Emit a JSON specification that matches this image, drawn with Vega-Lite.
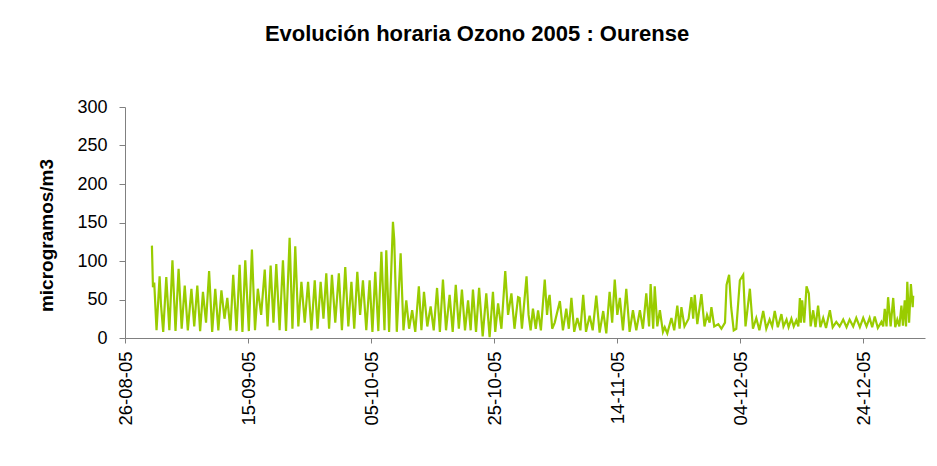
{
  "$schema": "https://vega.github.io/schema/vega-lite/v6.json",
  "width": 800,
  "height": 231,
  "autosize": "none",
  "padding": {"left": 125, "top": 107, "right": 12, "bottom": 128},
  "background": "white",
  "title": {
    "text": "Evolución horaria Ozono 2005 : Ourense",
    "font": "Liberation Sans",
    "fontSize": 22,
    "fontWeight": "bold",
    "color": "black",
    "anchor": "middle",
    "dx": -48,
    "offset": 52
  },
  "config": {
    "view": {"stroke": null},
    "font": "Liberation Sans"
  },
  "data": {
    "values": [
      {"t": "2005-08-30T09:00", "v": 120},
      {"t": "2005-08-30T13:00", "v": 66},
      {"t": "2005-08-30T18:00", "v": 72},
      {"t": "2005-08-31T03:00", "v": 10},
      {"t": "2005-08-31T15:00", "v": 80},
      {"t": "2005-08-31T20:00", "v": 45},
      {"t": "2005-09-01T05:00", "v": 8},
      {"t": "2005-09-01T17:00", "v": 79},
      {"t": "2005-09-02T05:00", "v": 10},
      {"t": "2005-09-02T17:00", "v": 101},
      {"t": "2005-09-03T05:00", "v": 9},
      {"t": "2005-09-03T17:00", "v": 90},
      {"t": "2005-09-04T05:00", "v": 12},
      {"t": "2005-09-04T17:00", "v": 68},
      {"t": "2005-09-05T05:00", "v": 10},
      {"t": "2005-09-05T19:00", "v": 64},
      {"t": "2005-09-06T06:00", "v": 15},
      {"t": "2005-09-06T18:00", "v": 68},
      {"t": "2005-09-07T05:00", "v": 9},
      {"t": "2005-09-07T16:00", "v": 60},
      {"t": "2005-09-08T04:00", "v": 20},
      {"t": "2005-09-08T16:00", "v": 87},
      {"t": "2005-09-09T04:00", "v": 8},
      {"t": "2005-09-09T16:00", "v": 64},
      {"t": "2005-09-10T04:00", "v": 10},
      {"t": "2005-09-10T16:00", "v": 62},
      {"t": "2005-09-11T04:00", "v": 25},
      {"t": "2005-09-11T15:00", "v": 52},
      {"t": "2005-09-12T03:00", "v": 10},
      {"t": "2005-09-12T14:00", "v": 82},
      {"t": "2005-09-13T03:00", "v": 9},
      {"t": "2005-09-13T15:00", "v": 95},
      {"t": "2005-09-14T02:00", "v": 8},
      {"t": "2005-09-14T13:00", "v": 101},
      {"t": "2005-09-15T03:00", "v": 9},
      {"t": "2005-09-15T15:00", "v": 115},
      {"t": "2005-09-16T03:00", "v": 10},
      {"t": "2005-09-16T14:00", "v": 64},
      {"t": "2005-09-17T03:00", "v": 30},
      {"t": "2005-09-17T17:00", "v": 89},
      {"t": "2005-09-18T04:00", "v": 15},
      {"t": "2005-09-18T16:00", "v": 94},
      {"t": "2005-09-19T03:00", "v": 20},
      {"t": "2005-09-19T14:00", "v": 96},
      {"t": "2005-09-20T03:00", "v": 10},
      {"t": "2005-09-20T16:00", "v": 101},
      {"t": "2005-09-21T04:00", "v": 9},
      {"t": "2005-09-21T18:00", "v": 130},
      {"t": "2005-09-22T05:00", "v": 12},
      {"t": "2005-09-22T16:00", "v": 119},
      {"t": "2005-09-23T04:00", "v": 15},
      {"t": "2005-09-23T16:00", "v": 73},
      {"t": "2005-09-24T05:00", "v": 20},
      {"t": "2005-09-24T18:00", "v": 73},
      {"t": "2005-09-25T07:00", "v": 10},
      {"t": "2005-09-25T20:00", "v": 75},
      {"t": "2005-09-26T07:00", "v": 12},
      {"t": "2005-09-26T19:00", "v": 73},
      {"t": "2005-09-27T06:00", "v": 25},
      {"t": "2005-09-27T17:00", "v": 84},
      {"t": "2005-09-28T04:00", "v": 12},
      {"t": "2005-09-28T15:00", "v": 82},
      {"t": "2005-09-29T04:00", "v": 20},
      {"t": "2005-09-29T18:00", "v": 84},
      {"t": "2005-09-30T06:00", "v": 10},
      {"t": "2005-09-30T19:00", "v": 92},
      {"t": "2005-10-01T07:00", "v": 15},
      {"t": "2005-10-01T19:00", "v": 73},
      {"t": "2005-10-02T06:00", "v": 12},
      {"t": "2005-10-02T18:00", "v": 86},
      {"t": "2005-10-03T05:00", "v": 30},
      {"t": "2005-10-03T16:00", "v": 75},
      {"t": "2005-10-04T05:00", "v": 10},
      {"t": "2005-10-04T18:00", "v": 75},
      {"t": "2005-10-05T05:00", "v": 8},
      {"t": "2005-10-05T16:00", "v": 86},
      {"t": "2005-10-06T04:00", "v": 9},
      {"t": "2005-10-06T16:00", "v": 112},
      {"t": "2005-10-07T04:00", "v": 10},
      {"t": "2005-10-07T11:00", "v": 114},
      {"t": "2005-10-07T22:00", "v": 8},
      {"t": "2005-10-08T13:00", "v": 151},
      {"t": "2005-10-08T18:00", "v": 128},
      {"t": "2005-10-09T04:00", "v": 8},
      {"t": "2005-10-09T19:00", "v": 110},
      {"t": "2005-10-10T06:00", "v": 10},
      {"t": "2005-10-10T17:00", "v": 49},
      {"t": "2005-10-11T04:00", "v": 12},
      {"t": "2005-10-11T16:00", "v": 36},
      {"t": "2005-10-12T04:00", "v": 8},
      {"t": "2005-10-12T18:00", "v": 67},
      {"t": "2005-10-13T04:00", "v": 10},
      {"t": "2005-10-13T14:00", "v": 60},
      {"t": "2005-10-14T03:00", "v": 15},
      {"t": "2005-10-14T16:00", "v": 41},
      {"t": "2005-10-15T04:00", "v": 10},
      {"t": "2005-10-15T17:00", "v": 65},
      {"t": "2005-10-16T04:00", "v": 8},
      {"t": "2005-10-16T16:00", "v": 76},
      {"t": "2005-10-17T04:00", "v": 10},
      {"t": "2005-10-17T18:00", "v": 56},
      {"t": "2005-10-18T06:00", "v": 8},
      {"t": "2005-10-18T18:00", "v": 69},
      {"t": "2005-10-19T06:00", "v": 12},
      {"t": "2005-10-19T18:00", "v": 63},
      {"t": "2005-10-20T06:00", "v": 10},
      {"t": "2005-10-20T18:00", "v": 49},
      {"t": "2005-10-21T04:00", "v": 10},
      {"t": "2005-10-21T13:00", "v": 63},
      {"t": "2005-10-22T01:00", "v": 8},
      {"t": "2005-10-22T13:00", "v": 65},
      {"t": "2005-10-23T03:00", "v": 2},
      {"t": "2005-10-23T17:00", "v": 58},
      {"t": "2005-10-24T06:00", "v": 1},
      {"t": "2005-10-24T19:00", "v": 60},
      {"t": "2005-10-25T04:00", "v": 8},
      {"t": "2005-10-25T15:00", "v": 45},
      {"t": "2005-10-26T04:00", "v": 12},
      {"t": "2005-10-26T19:00", "v": 87},
      {"t": "2005-10-27T06:00", "v": 30},
      {"t": "2005-10-27T19:00", "v": 58},
      {"t": "2005-10-28T07:00", "v": 12},
      {"t": "2005-10-28T21:00", "v": 53},
      {"t": "2005-10-29T03:00", "v": 52},
      {"t": "2005-10-29T12:00", "v": 12},
      {"t": "2005-10-30T06:00", "v": 80},
      {"t": "2005-10-30T14:00", "v": 30},
      {"t": "2005-10-30T22:00", "v": 10},
      {"t": "2005-10-31T07:00", "v": 38},
      {"t": "2005-10-31T18:00", "v": 12},
      {"t": "2005-11-01T03:00", "v": 36},
      {"t": "2005-11-01T14:00", "v": 10},
      {"t": "2005-11-02T05:00", "v": 76},
      {"t": "2005-11-02T14:00", "v": 30},
      {"t": "2005-11-02T20:00", "v": 50},
      {"t": "2005-11-03T00:00", "v": 56},
      {"t": "2005-11-03T10:00", "v": 12},
      {"t": "2005-11-03T20:00", "v": 20},
      {"t": "2005-11-04T16:00", "v": 48},
      {"t": "2005-11-05T04:00", "v": 10},
      {"t": "2005-11-05T17:00", "v": 38},
      {"t": "2005-11-06T03:00", "v": 12},
      {"t": "2005-11-06T13:00", "v": 52},
      {"t": "2005-11-07T00:00", "v": 8},
      {"t": "2005-11-07T12:00", "v": 26},
      {"t": "2005-11-08T00:00", "v": 10},
      {"t": "2005-11-08T11:00", "v": 56},
      {"t": "2005-11-08T22:00", "v": 8},
      {"t": "2005-11-09T12:00", "v": 29},
      {"t": "2005-11-10T00:00", "v": 10},
      {"t": "2005-11-10T14:00", "v": 55},
      {"t": "2005-11-11T03:00", "v": 7},
      {"t": "2005-11-11T17:00", "v": 35},
      {"t": "2005-11-12T05:00", "v": 6},
      {"t": "2005-11-12T18:00", "v": 60},
      {"t": "2005-11-13T04:00", "v": 20},
      {"t": "2005-11-13T14:00", "v": 76},
      {"t": "2005-11-14T00:00", "v": 30},
      {"t": "2005-11-14T10:00", "v": 52},
      {"t": "2005-11-14T22:00", "v": 10},
      {"t": "2005-11-15T11:00", "v": 64},
      {"t": "2005-11-16T00:00", "v": 8},
      {"t": "2005-11-16T13:00", "v": 36},
      {"t": "2005-11-17T02:00", "v": 10},
      {"t": "2005-11-17T16:00", "v": 36},
      {"t": "2005-11-18T04:00", "v": 12},
      {"t": "2005-11-18T17:00", "v": 58},
      {"t": "2005-11-19T04:00", "v": 15},
      {"t": "2005-11-19T10:00", "v": 70},
      {"t": "2005-11-19T20:00", "v": 12},
      {"t": "2005-11-20T02:00", "v": 67},
      {"t": "2005-11-20T12:00", "v": 15},
      {"t": "2005-11-20T22:00", "v": 36},
      {"t": "2005-11-21T10:00", "v": 8},
      {"t": "2005-11-21T17:00", "v": 14},
      {"t": "2005-11-22T03:00", "v": 6},
      {"t": "2005-11-22T19:00", "v": 26},
      {"t": "2005-11-23T06:00", "v": 10},
      {"t": "2005-11-23T18:00", "v": 42},
      {"t": "2005-11-24T03:00", "v": 12},
      {"t": "2005-11-24T10:00", "v": 40},
      {"t": "2005-11-24T22:00", "v": 15},
      {"t": "2005-11-25T14:00", "v": 25},
      {"t": "2005-11-26T01:00", "v": 53},
      {"t": "2005-11-26T08:00", "v": 25},
      {"t": "2005-11-26T14:00", "v": 56},
      {"t": "2005-11-27T00:00", "v": 18},
      {"t": "2005-11-27T16:00", "v": 57},
      {"t": "2005-11-28T04:00", "v": 15},
      {"t": "2005-11-28T14:00", "v": 30},
      {"t": "2005-11-29T00:00", "v": 20},
      {"t": "2005-11-29T07:00", "v": 40},
      {"t": "2005-11-29T18:00", "v": 15},
      {"t": "2005-11-30T10:00", "v": 18},
      {"t": "2005-11-30T22:00", "v": 12},
      {"t": "2005-12-01T12:00", "v": 20},
      {"t": "2005-12-01T18:00", "v": 69},
      {"t": "2005-12-02T04:00", "v": 82},
      {"t": "2005-12-02T12:00", "v": 40},
      {"t": "2005-12-02T22:00", "v": 10},
      {"t": "2005-12-03T08:00", "v": 12},
      {"t": "2005-12-03T22:00", "v": 75},
      {"t": "2005-12-04T11:00", "v": 82},
      {"t": "2005-12-04T20:00", "v": 15},
      {"t": "2005-12-05T13:00", "v": 64},
      {"t": "2005-12-06T01:00", "v": 12},
      {"t": "2005-12-06T14:00", "v": 26},
      {"t": "2005-12-07T02:00", "v": 10},
      {"t": "2005-12-07T17:00", "v": 35},
      {"t": "2005-12-08T05:00", "v": 12},
      {"t": "2005-12-08T18:00", "v": 24},
      {"t": "2005-12-09T04:00", "v": 15},
      {"t": "2005-12-09T14:00", "v": 35},
      {"t": "2005-12-10T02:00", "v": 14},
      {"t": "2005-12-10T16:00", "v": 31},
      {"t": "2005-12-11T00:00", "v": 15},
      {"t": "2005-12-11T12:00", "v": 24},
      {"t": "2005-12-11T20:00", "v": 14},
      {"t": "2005-12-12T07:00", "v": 25},
      {"t": "2005-12-12T16:00", "v": 15},
      {"t": "2005-12-13T02:00", "v": 23},
      {"t": "2005-12-13T10:00", "v": 15},
      {"t": "2005-12-13T16:00", "v": 52},
      {"t": "2005-12-13T20:00", "v": 20},
      {"t": "2005-12-14T01:00", "v": 49},
      {"t": "2005-12-14T09:00", "v": 20},
      {"t": "2005-12-14T18:00", "v": 67},
      {"t": "2005-12-15T03:00", "v": 58},
      {"t": "2005-12-15T10:00", "v": 15},
      {"t": "2005-12-15T20:00", "v": 36},
      {"t": "2005-12-16T05:00", "v": 14},
      {"t": "2005-12-16T15:00", "v": 42},
      {"t": "2005-12-17T00:00", "v": 14},
      {"t": "2005-12-17T11:00", "v": 26},
      {"t": "2005-12-17T22:00", "v": 13},
      {"t": "2005-12-18T13:00", "v": 36},
      {"t": "2005-12-19T00:00", "v": 14},
      {"t": "2005-12-19T14:00", "v": 21},
      {"t": "2005-12-20T03:00", "v": 15},
      {"t": "2005-12-20T17:00", "v": 24},
      {"t": "2005-12-21T06:00", "v": 14},
      {"t": "2005-12-21T18:00", "v": 24},
      {"t": "2005-12-22T08:00", "v": 15},
      {"t": "2005-12-22T20:00", "v": 26},
      {"t": "2005-12-23T10:00", "v": 14},
      {"t": "2005-12-23T23:00", "v": 26},
      {"t": "2005-12-24T12:00", "v": 15},
      {"t": "2005-12-25T00:00", "v": 26},
      {"t": "2005-12-25T10:00", "v": 14},
      {"t": "2005-12-25T20:00", "v": 28},
      {"t": "2005-12-26T08:00", "v": 13},
      {"t": "2005-12-26T22:00", "v": 21},
      {"t": "2005-12-27T05:00", "v": 15},
      {"t": "2005-12-27T11:00", "v": 38},
      {"t": "2005-12-27T18:00", "v": 15},
      {"t": "2005-12-28T00:00", "v": 53},
      {"t": "2005-12-28T10:00", "v": 15},
      {"t": "2005-12-28T20:00", "v": 52},
      {"t": "2005-12-29T04:00", "v": 14},
      {"t": "2005-12-29T12:00", "v": 24},
      {"t": "2005-12-29T20:00", "v": 15},
      {"t": "2005-12-30T04:00", "v": 42},
      {"t": "2005-12-30T10:00", "v": 16},
      {"t": "2005-12-30T17:00", "v": 49},
      {"t": "2005-12-30T22:00", "v": 15},
      {"t": "2005-12-31T03:00", "v": 73},
      {"t": "2005-12-31T10:00", "v": 20},
      {"t": "2005-12-31T17:00", "v": 70},
      {"t": "2006-01-01T00:00", "v": 40},
      {"t": "2006-01-01T02:00", "v": 55}
    ]
  },
  "mark": {"type": "line", "color": "#99CC00", "strokeWidth": 2.2, "clip": true},
  "encoding": {
    "x": {
      "field": "t",
      "type": "temporal",
      "scale": {
        "domain": [
          {"year": 2005, "month": 8, "date": 26},
          {"year": 2006, "month": 1, "date": 3}
        ]
      },
      "axis": {
        "title": null,
        "values": [
          {"year": 2005, "month": 8, "date": 26},
          {"year": 2005, "month": 9, "date": 15},
          {"year": 2005, "month": 10, "date": 5},
          {"year": 2005, "month": 10, "date": 25},
          {"year": 2005, "month": 11, "date": 14},
          {"year": 2005, "month": 12, "date": 4},
          {"year": 2005, "month": 12, "date": 24}
        ],
        "format": "%d-%m-%y",
        "labelAngle": -90,
        "labelAlign": "right",
        "labelBaseline": "middle",
        "labelFontSize": 18.5,
        "labelColor": "black",
        "labelPadding": 8,
        "labelFlush": false,
        "labelOverlap": false,
        "tickSize": 5,
        "tickColor": "#808080",
        "domainColor": "#808080",
        "grid": false
      }
    },
    "y": {
      "field": "v",
      "type": "quantitative",
      "scale": {"domain": [0, 300], "nice": false},
      "axis": {
        "title": "microgramos/m3",
        "titleFontSize": 19,
        "titleFontWeight": "bold",
        "titleColor": "black",
        "titleAngle": -90,
        "titleAlign": "center",
        "titleBaseline": "middle",
        "titleX": -79,
        "titleY": 128,
        "values": [0, 50, 100, 150, 200, 250, 300],
        "labelFontSize": 18,
        "labelColor": "black",
        "labelPadding": 12,
        "tickSize": 6,
        "tickColor": "#808080",
        "domainColor": "#808080",
        "grid": false
      }
    }
  }
}
